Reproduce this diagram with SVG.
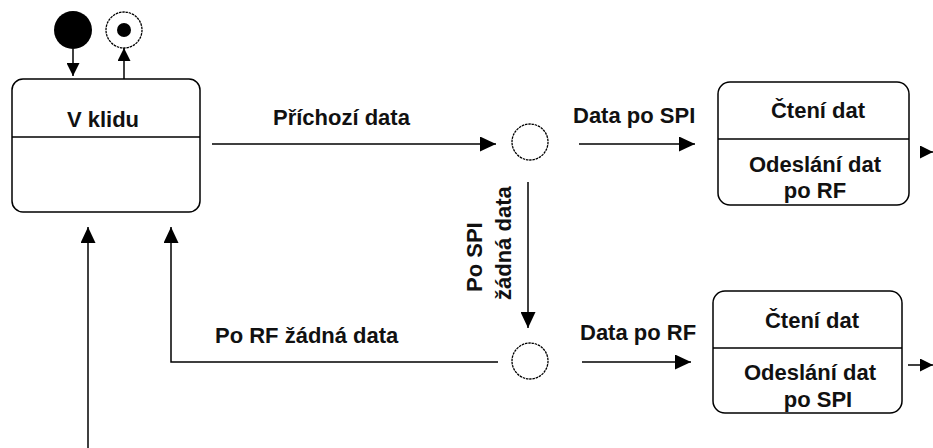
<svg xmlns="http://www.w3.org/2000/svg" width="933" height="448" viewBox="0 0 933 448">
<style>
  text { font-family: "Liberation Sans", Arial, sans-serif; font-weight: bold; font-size: 22px; fill: #111; }
  .box { fill: #fff; stroke: #000; stroke-width: 1.5; }
  .div { stroke: #000; stroke-width: 1.5; }
  .con { fill: none; stroke: #000; stroke-width: 1.5; }
  .choice { fill: #fff; stroke: #000; stroke-width: 1.3; stroke-dasharray: 2.5 0.8; }
</style>
<defs>
  <marker id="ah" markerUnits="userSpaceOnUse" markerWidth="16" markerHeight="15" refX="16" refY="7.5" orient="auto">
    <path d="M0,0 L16,7.5 L0,15 z" fill="#000"/>
  </marker>
  <marker id="ahs" markerUnits="userSpaceOnUse" markerWidth="13" markerHeight="13" refX="13" refY="6.5" orient="auto">
    <path d="M0,0 L13,6.5 L0,13 z" fill="#000"/>
  </marker>
</defs>

<g id="initial">
  <circle cx="73" cy="30" r="19" fill="#000"/>
</g>
<g id="final">
  <circle class="choice" cx="124" cy="30" r="18"/>
  <circle cx="124" cy="30" r="7" fill="#000"/>
</g>

<g id="v-klidu">
  <rect class="box" x="12" y="79" width="188" height="133" rx="11"/>
  <line class="div" x1="12" y1="137" x2="200" y2="137"/>
  <text x="103" y="127" text-anchor="middle">V klidu</text>
</g>

<g id="choice1">
  <circle class="choice" cx="530" cy="142" r="18"/>
</g>
<g id="choice2">
  <circle class="choice" cx="530" cy="361" r="18"/>
</g>

<g id="state-rf">
  <rect class="box" x="718" y="82" width="191" height="123" rx="12"/>
  <line class="div" x1="718" y1="139" x2="909" y2="139"/>
  <text x="818" y="118" text-anchor="middle">Čtení dat</text>
  <text x="815" y="172" text-anchor="middle">Odeslání dat</text>
  <text x="815" y="198" text-anchor="middle">po RF</text>
</g>

<g id="state-spi">
  <rect class="box" x="713" y="291" width="189" height="122" rx="12"/>
  <line class="div" x1="713" y1="348" x2="902" y2="348"/>
  <text x="812" y="328" text-anchor="middle">Čtení dat</text>
  <text x="810" y="380" text-anchor="middle">Odeslání dat</text>
  <text x="818" y="407" text-anchor="middle">po SPI</text>
</g>

<g id="connectors">
  <line class="con" x1="73" y1="49" x2="73" y2="76" marker-end="url(#ahs)"/>
  <line class="con" x1="124" y1="79" x2="124" y2="48" marker-end="url(#ahs)"/>
  <line class="con" x1="212" y1="144" x2="496" y2="144" marker-end="url(#ah)"/>
  <line class="con" x1="579" y1="144" x2="695" y2="144" marker-end="url(#ah)"/>
  <line class="con" x1="924" y1="152" x2="933" y2="152" marker-end="url(#ahs)"/>
  <line class="con" x1="528" y1="182" x2="528" y2="328" marker-end="url(#ah)"/>
  <line class="con" x1="582" y1="362" x2="691" y2="362" marker-end="url(#ah)"/>
  <line class="con" x1="908" y1="365" x2="933" y2="365" marker-end="url(#ahs)"/>
  <polyline class="con" points="498,362 171,362 171,227" marker-end="url(#ah)"/>
  <line class="con" x1="88" y1="448" x2="88" y2="227" marker-end="url(#ah)"/>
</g>

<g id="labels">
  <text x="273" y="125">Příchozí data</text>
  <text x="573" y="123">Data po SPI</text>
  <text x="580" y="340">Data po RF</text>
  <text x="215" y="343">Po RF žádná data</text>
  <text transform="translate(482,292) rotate(-90)">Po SPI</text>
  <text transform="translate(511,300) rotate(-90)">žádná data</text>
</g>
</svg>
